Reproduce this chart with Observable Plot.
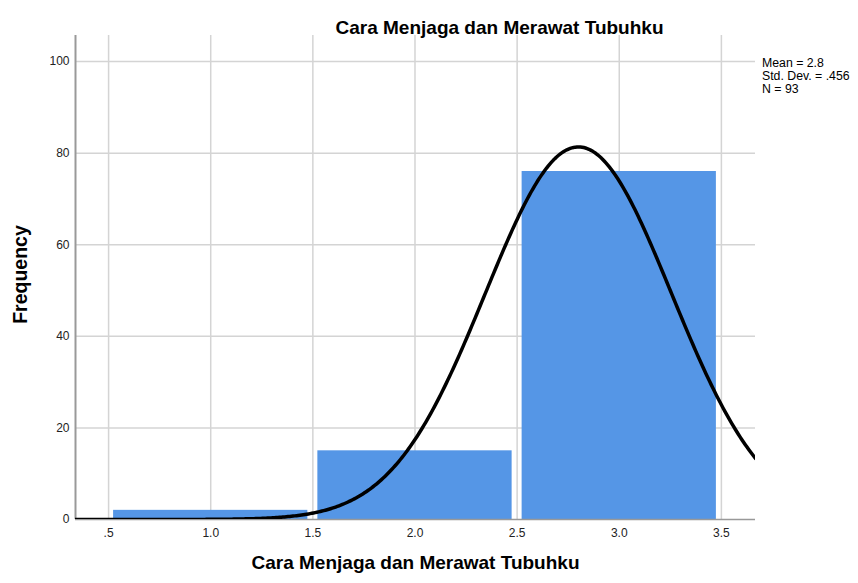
<!DOCTYPE html>
<html><head><meta charset="utf-8">
<script src="https://cdn.jsdelivr.net/npm/d3@7"></script>
<script src="https://cdn.jsdelivr.net/npm/@observablehq/plot@0.6"></script>
<style>body{margin:0;background:#fff;font-family:"Liberation Sans",Arial,sans-serif}</style>
</head><body><div id="chart"></div>
<script>
const binStart = [0.5, 1.5, 2.5];
const binEnd = [1.5, 2.5, 3.5];
const frequency = [2, 15, 76];
const xTicks = [0.5, 1.0, 1.5, 2.0, 2.5, 3.0, 3.5];
const xTickLabels = [".5", "1.0", "1.5", "2.0", "2.5", "3.0", "3.5"];
const yTicks = [0, 20, 40, 60, 80, 100];
const statLabels = ["Mean = 2.8", "Std. Dev. = .456", "N = 93"];
const mean = 2.8, sd = 0.456, n = 93, binWidth = 1;
const title = "Cara Menjaga dan Merawat Tubuhku";

const bins = binStart.map((s, i) => ({x1: s, x2: binEnd[i], y: frequency[i]}));
const xDom = [0.338, 3.667];
const curve = d3.range(0, 401).map(i => {
  const x = xDom[0] + (xDom[1] - xDom[0]) * i / 400;
  return {x, y: n * binWidth * Math.exp(-0.5 * ((x - mean) / sd) ** 2) / (sd * Math.sqrt(2 * Math.PI))};
});

const chart = Plot.plot({
  width: 858, height: 583,
  marginLeft: 75, marginRight: 103, marginTop: 35, marginBottom: 64,
  style: {fontFamily: "'Liberation Sans', Arial, sans-serif", color: "#000", background: "#fff"},
  x: {domain: xDom},
  y: {domain: [0, 105.7]},
  marks: [
    Plot.ruleX(xTicks, {stroke: "#d4d4d4", strokeWidth: 1.5}),
    Plot.ruleY(yTicks.slice(1), {stroke: "#d4d4d4", strokeWidth: 1.5}),
    Plot.rectY(bins, {x1: "x1", x2: "x2", y: "y", fill: "#5596e6", insetLeft: 5, insetRight: 5}),
    Plot.ruleX([xDom[0]], {stroke: "#999", strokeWidth: 2}),
    Plot.ruleY([0], {stroke: "#999", strokeWidth: 1.5}),
    Plot.line(curve, {x: "x", y: "y", stroke: "#000", strokeWidth: 3.5, clip: true}),
    Plot.axisX(xTicks, {tickSize: 0, tickPadding: 9, fontSize: 12, tickFormat: (d, i) => xTickLabels[i], label: null, fill: "#222"}),
    Plot.axisY(yTicks, {tickSize: 0, tickPadding: 6, fontSize: 12, label: null, fill: "#222"}),
    Plot.text([title], {frameAnchor: "top", dx: 84, dy: -15, fontSize: 19, fontWeight: "bold", textAnchor: "middle"}),
    Plot.text([title], {frameAnchor: "bottom", dx: 0, dy: 49, fontSize: 19, fontWeight: "bold", textAnchor: "middle"}),
    Plot.text(["Frequency"], {frameAnchor: "left", dx: -55, dy: -3, rotate: -90, fontSize: 19.5, fontWeight: "bold", textAnchor: "middle"}),
    Plot.text(statLabels, {frameAnchor: "top-right", textAnchor: "start", fontSize: 12.3, className: "stats"})
  ]
});
document.getElementById("chart").appendChild(chart);
// stack the statistics lines beside the plot
const sg = d3.select(chart).select("g.stats").attr("transform", null);
sg.selectAll("text").each(function(){
  const i = statLabels.indexOf(this.textContent);
  d3.select(this).attr("dy", null).attr("x", null).attr("y", null).attr("transform", `translate(762,${67 + i * 13})`);
});
</script></body></html>
